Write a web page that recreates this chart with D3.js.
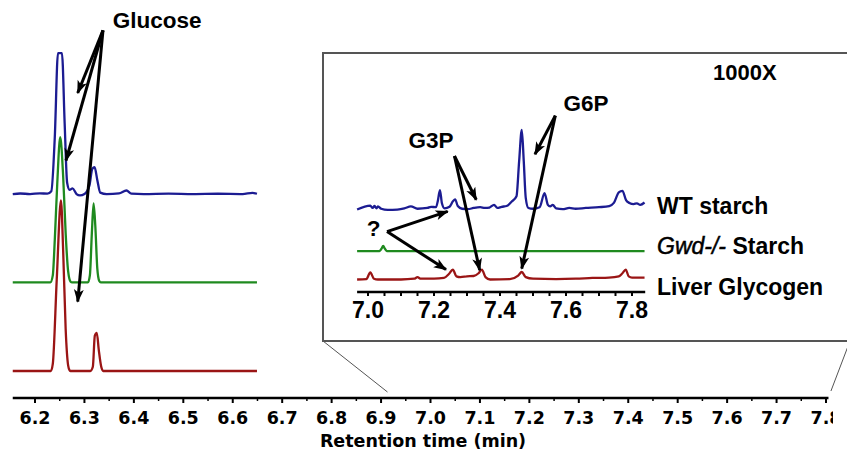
<!DOCTYPE html>
<html>
<head>
<meta charset="utf-8">
<script src="https://cdn.jsdelivr.net/npm/d3@7"></script>
<style>
  body { margin: 0; background: #fff; }
  svg { display: block; }
</style>
</head>
<body>
<script>
"use strict";

//////////////////////////////
// DATA (retention time, signal)
//////////////////////////////

// full chromatograms, signal in arbitrary units (WT glucose peak = 100)
var wtStarch = [
  [6.155, 0], [6.17, 0.4], [6.19, 0], [6.21, 0.5], [6.225, 0.3], [6.233, 2],
  [6.240, 40], [6.2465, 100], [6.2545, 100], [6.260, 50], [6.265, 8], [6.270, 3],
  [6.276, 4], [6.284, 0], [6.291, -1], [6.300, 0], [6.310, 6], [6.316, 18],
  [6.3205, 19], [6.326, 10], [6.332, 1], [6.345, 0], [6.370, 0.5], [6.385, 2.5],
  [6.395, 0.3], [6.42, 0], [6.47, 0.3], [6.52, 0], [6.57, 0.2], [6.62, 0],
  [6.640, 0.8], [6.649, 0.2]
];
var gwdStarch = [
  [6.155, 0], [6.231, 0], [6.236, 5], [6.240, 30], [6.245, 70], [6.251, 103],
  [6.257, 75], [6.262, 35], [6.267, 8], [6.272, 0.5], [6.275, 0], [6.307, 0],
  [6.311, 5], [6.315, 35], [6.3185, 56], [6.322, 40], [6.326, 10], [6.330, 1],
  [6.333, 0], [6.649, 0]
];
var liverGlycogen = [
  [6.155, 0], [6.232, 0], [6.236, 5], [6.244, 65], [6.2525, 121], [6.257, 85],
  [6.262, 30], [6.267, 4], [6.270, 0.5], [6.272, 0], [6.312, 0], [6.317, 3],
  [6.321, 25], [6.325, 27], [6.329, 15], [6.334, 3], [6.338, 0], [6.649, 0]
];

// 1000X zoom, signal in arbitrary units (WT G6P peak = 100)
var wtStarchZoom = [
  [6.967, -2], [7.007, 3], [7.014, 0], [7.020, 2.5], [7.026, -0.5], [7.030, 2],
  [7.040, -1], [7.060, -2.5], [7.089, -2], [7.110, -0.5], [7.130, 2], [7.150, -1],
  [7.180, 0], [7.191, 1.5], [7.206, 1], [7.212, 10], [7.218, 23], [7.224, 6],
  [7.232, -0.5], [7.247, 1.5], [7.258, 9], [7.264, 11], [7.272, 2.5], [7.285, -1],
  [7.303, -1.5], [7.320, 0], [7.340, 1], [7.354, 0], [7.368, 0.6], [7.382, 4],
  [7.392, 0], [7.405, 1.5], [7.420, 2.5], [7.435, 8], [7.450, 15], [7.458, 60],
  [7.466, 100], [7.472, 60], [7.478, 13], [7.486, 0], [7.500, -1], [7.520, 1],
  [7.535, 19], [7.545, 4], [7.552, 2], [7.560, 4], [7.570, -0.5], [7.590, -1.5],
  [7.610, 0], [7.629, -1], [7.660, 0], [7.700, 1], [7.731, 2.5], [7.745, 6.5],
  [7.760, 20], [7.771, 22], [7.782, 10], [7.792, 6.5], [7.805, 5], [7.815, 6],
  [7.825, 4], [7.838, 7]
];
var gwdStarchZoom = [
  [6.967, 0], [7.035, 0], [7.041, 3], [7.046, 6.5], [7.051, 3], [7.057, 0], [7.838, 0]
];
var liverGlycogenZoom = [
  [6.967, 0], [6.995, 0.5], [7.007, 9], [7.018, 1], [7.030, 0], [7.100, 0],
  [7.140, 1], [7.150, 3], [7.160, 1], [7.200, 1], [7.230, 2], [7.245, 7],
  [7.257, 12.7], [7.268, 4], [7.280, 3], [7.300, 4], [7.320, 4.5], [7.335, 8],
  [7.345, 12.7], [7.356, 3], [7.370, 0], [7.430, 0.5], [7.455, 5], [7.466, 9.6],
  [7.478, 3], [7.500, 1], [7.570, 0.5], [7.630, 1], [7.680, 2], [7.730, 2.5],
  [7.760, 4], [7.771, 8], [7.781, 12.7], [7.790, 4], [7.800, 2.5], [7.838, 2.5]
];

// axis ticks
var mainTicks = d3.range(6.2, 7.801, 0.1);
var mainMinorTicks = d3.range(6.25, 7.8, 0.1);
var zoomTicks = [7.0, 7.2, 7.4, 7.6, 7.8];
var zoomMinorTicks = d3.range(7.05, 7.8, 0.05);

var traceNames = ["WT starch", "Gwd-/- Starch", "Liver Glycogen"];

// annotations: label position and arrow tips in (time, stacked signal)
var glucoseLabel = { text: "Glucose", at: [6.447, 243], from: [6.3375, 241.6],
  tips: [[6.2864, 197.2], [6.2627, 149.3], [6.2864, 49.2]] };
var zoomLabels = [
  { text: "G6P", at: [7.661, 216], from: [7.5676, 210.1], tips: [[7.506, 160.5], [7.4658, 14]] },
  { text: "G3P", at: [7.191, 169], from: [7.262, 158.3], tips: [[7.328, 102.3], [7.3385, 11.8]] },
  { text: "?", at: [7.017, 56], from: [7.0576, 61.4], tips: [[7.2415, 87.3], [7.2364, 12.7]] }
];

//////////////////////////////
// SETUP
//////////////////////////////
var width = 847, height = 457;
var colors = ["#1c1c92", "#1f8a1f", "#9a1515"];
var boldFont = "'Liberation Sans', Arial, sans-serif";

var svg = d3.select("body").append("svg")
  .attr("width", width)
  .attr("height", height);

svg.append("defs").append("marker")
  .attr("id", "head")
  .attr("markerUnits", "userSpaceOnUse")
  .attr("viewBox", "0 0 12 10")
  .attr("refX", 11).attr("refY", 5)
  .attr("markerWidth", 14).attr("markerHeight", 11)
  .attr("orient", "auto")
  .append("path")
  .attr("d", "M0,0.5 L12,5 L0,9.5 L3,5 Z")
  .attr("fill", "#000");

svg.append("clipPath").attr("id", "mainclip")
  .append("rect").attr("x", 0).attr("y", 0).attr("width", 833).attr("height", height);

// main scales; traces are stacked by offset
var x = d3.scaleLinear().domain([6.2, 7.8]).range([35, 826]);
var y = d3.scaleLinear().domain([0, 100]).range([371, 230]);
var mainOffsets = [125.5, 62.8, 0];

// inset scales
var xz = d3.scaleLinear().domain([7.0, 7.8]).range([368, 632]);
var yz = d3.scaleLinear().domain([0, 100]).range([279.5, 201.5]);
var zoomOffsets = [91.7, 36.5, 0];

//////////////////////////////
// INSET BOX + CONNECTORS
//////////////////////////////
var axisY = 398;
svg.append("line")
  .attr("x1", 323).attr("y1", 341)
  .attr("x2", x(6.913)).attr("y2", axisY - 6)
  .attr("stroke", "#555").attr("stroke-width", 1);
svg.append("line")
  .attr("x1", 850).attr("y1", 341)
  .attr("x2", x(7.81)).attr("y2", axisY - 7)
  .attr("stroke", "#555").attr("stroke-width", 1);
svg.append("rect")
  .attr("x", 323).attr("y", 53)
  .attr("width", 530).attr("height", 288)
  .attr("fill", "#fff")
  .attr("stroke", "#555").attr("stroke-width", 2);

//////////////////////////////
// MAIN TRACES
//////////////////////////////
[wtStarch, gwdStarch, liverGlycogen].forEach(function (series, i) {
  var line = d3.line()
    .x(function (d) { return x(d[0]); })
    .y(function (d) { return y(d[1] + mainOffsets[i]); })
    .curve(d3.curveMonotoneX);
  svg.append("path")
    .datum(series)
    .attr("d", line)
    .attr("fill", "none")
    .attr("stroke", colors[i])
    .attr("stroke-width", 2.3);
});

// main axis
var mainAxis = svg.append("g").attr("clip-path", "url(#mainclip)");
mainAxis.append("line")
  .attr("x1", x(6.155)).attr("x2", x(7.805))
  .attr("y1", axisY).attr("y2", axisY)
  .attr("stroke", "#000").attr("stroke-width", 2.5);
mainAxis.selectAll(".tick")
  .data(mainTicks)
  .enter().append("line")
  .attr("x1", function (d) { return x(d); }).attr("x2", function (d) { return x(d); })
  .attr("y1", axisY).attr("y2", axisY + 5)
  .attr("stroke", "#000").attr("stroke-width", 2);
mainAxis.selectAll(".minor")
  .data(mainMinorTicks)
  .enter().append("line")
  .attr("x1", function (d) { return x(d); }).attr("x2", function (d) { return x(d); })
  .attr("y1", axisY).attr("y2", axisY + 3)
  .attr("stroke", "#000").attr("stroke-width", 1.5);
mainAxis.selectAll(".lbl")
  .data(mainTicks)
  .enter().append("text")
  .attr("x", function (d) { return x(d); })
  .attr("y", 424)
  .attr("text-anchor", "middle")
  .attr("font-family", "'DejaVu Sans', Verdana, sans-serif")
  .attr("font-weight", "bold")
  .attr("font-size", 17.5)
  .text(d3.format(".1f"));

svg.append("text")
  .attr("x", 423).attr("y", 447)
  .attr("text-anchor", "middle")
  .attr("font-family", "'DejaVu Sans', Verdana, sans-serif")
  .attr("font-weight", "bold")
  .attr("font-size", 17.5)
  .text("Retention time (min)");

//////////////////////////////
// INSET TRACES
//////////////////////////////
[wtStarchZoom, gwdStarchZoom, liverGlycogenZoom].forEach(function (series, i) {
  var line = d3.line()
    .x(function (d) { return xz(d[0]); })
    .y(function (d) { return yz(d[1] + zoomOffsets[i]); })
    .curve(d3.curveMonotoneX);
  svg.append("path")
    .datum(series)
    .attr("d", line)
    .attr("fill", "none")
    .attr("stroke", colors[i])
    .attr("stroke-width", 2.3);
});

// inset axis
var zAxisY = 292;
svg.append("line")
  .attr("x1", xz(6.967)).attr("x2", xz(7.84))
  .attr("y1", zAxisY).attr("y2", zAxisY)
  .attr("stroke", "#000").attr("stroke-width", 2.5);
svg.selectAll(".ztick")
  .data(zoomMinorTicks.concat([7.0, 7.8]))
  .enter().append("line")
  .attr("x1", function (d) { return xz(d); }).attr("x2", function (d) { return xz(d); })
  .attr("y1", zAxisY).attr("y2", zAxisY + 4)
  .attr("stroke", "#000").attr("stroke-width", 2);
svg.selectAll(".zlbl")
  .data(zoomTicks)
  .enter().append("text")
  .attr("x", function (d) { return xz(d); })
  .attr("y", 318)
  .attr("text-anchor", "middle")
  .attr("font-family", boldFont)
  .attr("font-weight", "bold")
  .attr("font-size", 23)
  .text(d3.format(".1f"));

// legend labels at the right end of the inset traces
var legendY = [214, 254, 294.5];
traceNames.forEach(function (name, i) {
  var t = svg.append("text")
    .attr("x", 657).attr("y", legendY[i])
    .attr("font-family", boldFont)
    .attr("font-weight", "bold")
    .attr("font-size", 23);
  if (name.indexOf("Gwd") === 0) {
    t.append("tspan").attr("font-style", "italic").attr("font-weight", "normal")
      .attr("stroke", "#000").attr("stroke-width", 0.5).text("Gwd-/-");
    t.append("tspan").text(" Starch");
  } else {
    t.text(name);
  }
});

svg.append("text")
  .attr("x", xz(8.142)).attr("y", yz(256.2))
  .attr("text-anchor", "middle")
  .attr("font-family", boldFont)
  .attr("font-weight", "bold")
  .attr("font-size", 22)
  .text("1000X");

//////////////////////////////
// ARROWS + LABELS
//////////////////////////////
function drawArrows (ann, sx, sy) {
  svg.append("text")
    .attr("x", sx(ann.at[0])).attr("y", sy(ann.at[1]))
    .attr("text-anchor", "middle")
    .attr("font-family", boldFont)
    .attr("font-weight", "bold")
    .attr("font-size", 22.5)
    .text(ann.text);
  ann.tips.forEach(function (tip) {
    svg.append("line")
      .attr("x1", sx(ann.from[0])).attr("y1", sy(ann.from[1]))
      .attr("x2", sx(tip[0])).attr("y2", sy(tip[1]))
      .attr("stroke", "#000")
      .attr("stroke-width", 3)
      .attr("marker-end", "url(#head)");
  });
}

drawArrows(glucoseLabel, x, y);
zoomLabels.forEach(function (ann) { drawArrows(ann, xz, yz); });
</script>
</body>
</html>
